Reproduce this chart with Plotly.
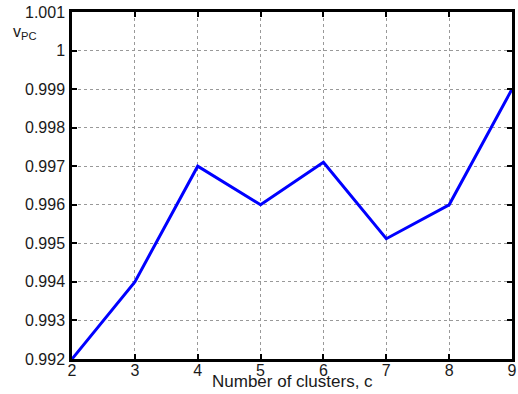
import plotly.graph_objects as go

clusters = [2, 3, 4, 5, 6, 7, 8, 9]
vpc = [0.992, 0.994, 0.997, 0.996, 0.9971, 0.99512, 0.996, 0.999]

x_ticks = [2, 3, 4, 5, 6, 7, 8, 9]
y_ticks = [0.992, 0.993, 0.994, 0.995, 0.996, 0.997, 0.998, 0.999, 1.0, 1.001]
y_ticktext = ["0.992", "0.993", "0.994", "0.995", "0.996", "0.997", "0.998", "0.999", "1", "1.001"]

font_family = "Arial, Liberation Sans, sans-serif"

fig = go.Figure()
fig.add_trace(go.Scatter(x=clusters, y=vpc, mode="lines",
                         line=dict(color="#0000ff", width=3)))

axis_common = dict(
    showline=True, linecolor="black", linewidth=2.5, mirror="ticks",
    ticks="inside", ticklen=5, tickwidth=2, tickcolor="black",
    showgrid=True, gridcolor="#999999", gridwidth=1, griddash="dot",
    zeroline=False, automargin=False, ticklabeloverflow="allow",
    tickfont=dict(family=font_family, size=16, color="#1a1a1a"),
)

fig.update_xaxes(range=[2, 9], tickvals=x_ticks, ticklabelstandoff=-5, **axis_common)
fig.update_yaxes(range=[0.992, 1.001], tickvals=y_ticks, ticktext=y_ticktext,
                 ticklabelstandoff=1, **axis_common)

fig.update_layout(
    width=518, height=394,
    margin=dict(l=72, r=6, t=12, b=35),
    paper_bgcolor="white", plot_bgcolor="white",
    showlegend=False,
    annotations=[
        dict(text="Number of clusters, c", xref="paper", yref="paper",
             x=0.5, y=-22/347, xanchor="center", yanchor="middle",
             showarrow=False, font=dict(family=font_family, size=17, color="#1a1a1a")),
        dict(text="v<sub>PC</sub>", xref="paper", yref="paper",
             x=-61/440, y=1 - 20/347, xanchor="left", yanchor="middle",
             showarrow=False, font=dict(family=font_family, size=16, color="#1a1a1a")),
    ],
)

fig.write_html("out.html", config={"displayModeBar": False},
               post_script="document.body.style.margin='0';")
